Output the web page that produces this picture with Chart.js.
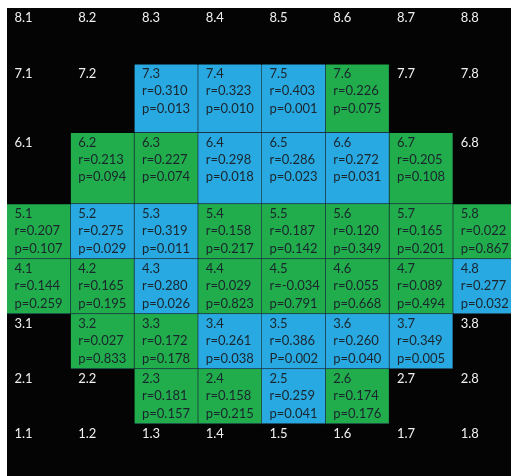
<!DOCTYPE html>
<html>
<head>
<meta charset="utf-8">
<script src="https://cdn.jsdelivr.net/npm/chart.js@4"></script>
<style>
  html, body { margin: 0; padding: 0; background: #ffffff; overflow: hidden; }
  #wrap { width: 511px; height: 476px; overflow: hidden; position: relative; }
  canvas { display: block; }
</style>
</head>
<body>
<div id="wrap"><canvas id="grid" width="520" height="482"></canvas></div>
<script>
// Electrode grid: columns left to right, rows top (8) to bottom (1)
const columns = ['1', '2', '3', '4', '5', '6', '7', '8'];
const rows = ['8', '7', '6', '5', '4', '3', '2', '1'];
const N = null;

// correlation coefficient per cell (null = not recorded)
const rValues = [
  [N, N, N, N, N, N, N, N],
  [N, N, 0.310, 0.323, 0.403, 0.226, N, N],
  [N, 0.213, 0.227, 0.298, 0.286, 0.272, 0.205, N],
  [0.207, 0.275, 0.319, 0.158, 0.187, 0.120, 0.165, 0.022],
  [0.144, 0.165, 0.280, 0.029, -0.034, 0.055, 0.089, 0.277],
  [N, 0.027, 0.172, 0.261, 0.386, 0.260, 0.349, N],
  [N, N, 0.181, 0.158, 0.259, 0.174, N, N],
  [N, N, N, N, N, N, N, N]
];

// p value per cell
const pValues = [
  [N, N, N, N, N, N, N, N],
  [N, N, 0.013, 0.010, 0.001, 0.075, N, N],
  [N, 0.094, 0.074, 0.018, 0.023, 0.031, 0.108, N],
  [0.107, 0.029, 0.011, 0.217, 0.142, 0.349, 0.201, 0.867],
  [0.259, 0.195, 0.026, 0.823, 0.791, 0.668, 0.494, 0.032],
  [N, 0.833, 0.178, 0.038, 0.002, 0.040, 0.005, N],
  [N, N, 0.157, 0.215, 0.041, 0.176, N, N],
  [N, N, N, N, N, N, N, N]
];

// cells whose p label is written with a capital P
const capitalP = ['3.5'];
const alpha = 0.05;

// relative row heights (top row first)
const rowSpan = [1.02, 1.245, 1.3, 1, 1, 1, 1, 1];
const rowEdges = [0];
rowSpan.forEach(s => rowEdges.push(rowEdges[rowEdges.length - 1] + s));
const totalSpan = rowEdges[rowEdges.length - 1];

const COLORS = {
  significant: '#29a9e1',
  notSignificant: '#21ad4b',
  empty: '#040404',
  border: '#1b3442',
  darkText: '#1a252d',
  lightText: '#f0f0f0'
};

function cellFill(i, j) {
  const p = pValues[i][j];
  if (p === null) return COLORS.empty;
  return p < alpha ? COLORS.significant : COLORS.notSignificant;
}

const datasets = rows.map((row, i) => ({
  label: row,
  data: columns.map(() => [rowEdges[i], rowEdges[i + 1]]),
  backgroundColor: columns.map((c, j) => cellFill(i, j)),
  borderColor: COLORS.border,
  borderWidth: ctx => pValues[i][ctx.dataIndex] === null ? 0 : { top: 0, left: 0, right: 1, bottom: 1 },
  borderSkipped: false,
  barPercentage: 1,
  categoryPercentage: 1
}));

const backgroundPlugin = {
  id: 'areaBackground',
  beforeDatasetsDraw(chart) {
    const { ctx, chartArea } = chart;
    ctx.save();
    ctx.fillStyle = COLORS.empty;
    ctx.fillRect(chartArea.left, chartArea.top, chartArea.right - chartArea.left, chartArea.bottom - chartArea.top);
    ctx.restore();
  }
};

const cellTextPlugin = {
  id: 'cellText',
  afterDatasetsDraw(chart) {
    const { ctx } = chart;
    ctx.save();
    ctx.font = '13px Lato, "Noto Sans", sans-serif';
    ctx.textAlign = 'left';
    ctx.textBaseline = 'middle';
    chart.data.datasets.forEach((ds, i) => {
      const meta = chart.getDatasetMeta(i);
      meta.data.forEach((bar, j) => {
        const left = bar.x - bar.width / 2;
        const top = Math.min(bar.y, bar.base);
        const name = rows[i] + '.' + columns[j];
        const r = rValues[i][j];
        const p = pValues[i][j];
        const x = left + 7.5;
        if (p === null) {
          ctx.fillStyle = COLORS.lightText;
          ctx.fillText(name, x, top + 10);
          return;
        }
        ctx.fillStyle = COLORS.darkText;
        ctx.fillText(name, x, top + 10);
        ctx.fillText('r=' + r.toFixed(3), x, top + 27.2);
        const pLetter = capitalP.includes(name) ? 'P' : 'p';
        ctx.fillText(pLetter + '=' + p.toFixed(3), x, top + 44.4);
      });
    });
    ctx.restore();
  }
};

new Chart(document.getElementById('grid'), {
  type: 'bar',
  data: { labels: columns, datasets },
  options: {
    responsive: false,
    animation: false,
    layout: { padding: { left: 7, top: 8, right: 3, bottom: 3 } },
    plugins: { legend: { display: false }, tooltip: { enabled: false } },
    scales: {
      x: { type: 'category', stacked: true, display: false, offset: true },
      y: { type: 'linear', min: 0, max: totalSpan, reverse: true, display: false }
    }
  },
  plugins: [backgroundPlugin, cellTextPlugin]
});
</script>
</body>
</html>
